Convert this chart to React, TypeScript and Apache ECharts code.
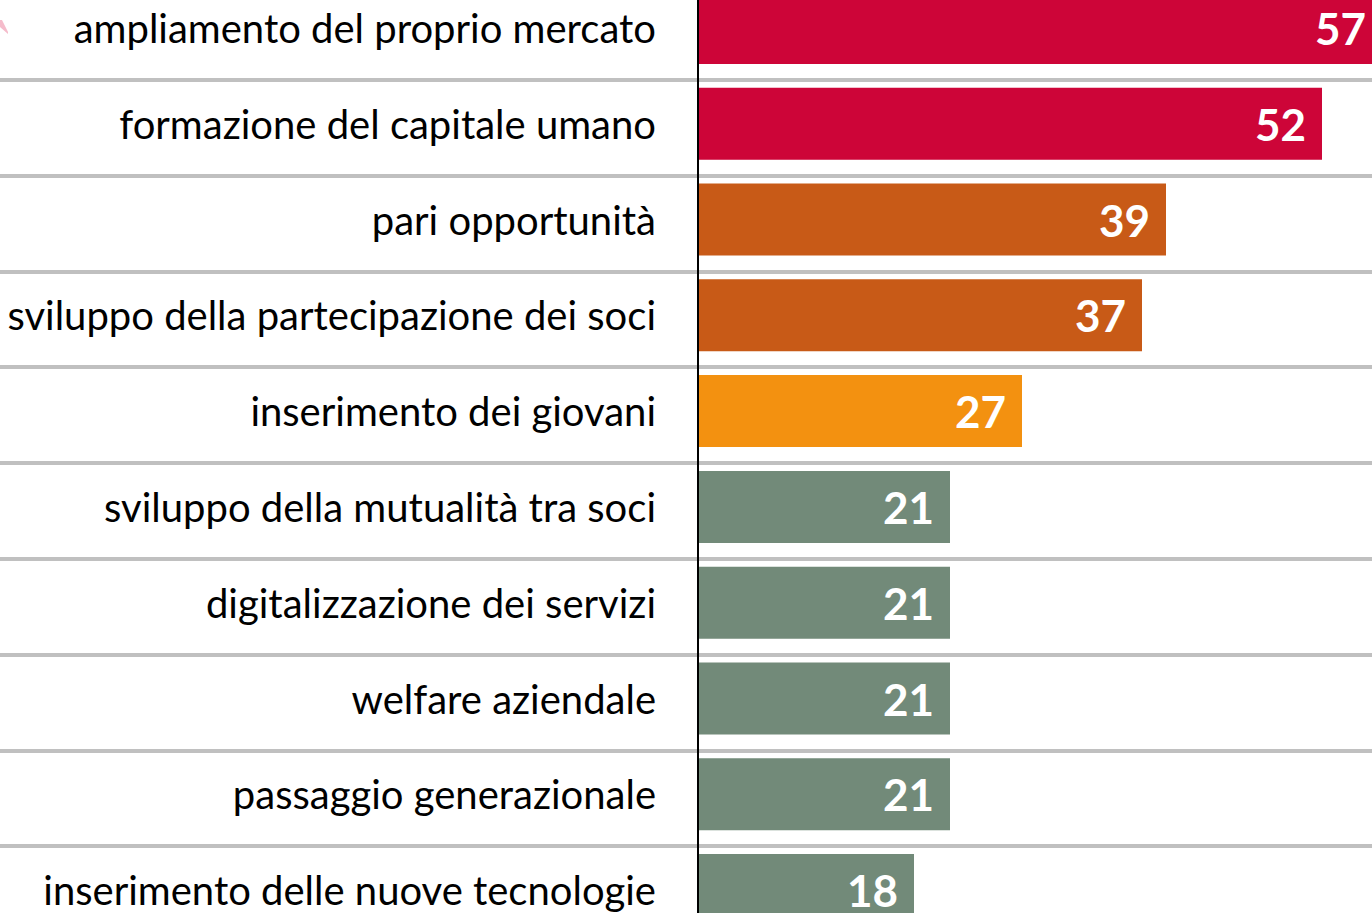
import React, { useEffect, useRef } from "react";
import * as echarts from "echarts";

const categories = [
  "ampliamento del proprio mercato",
  "formazione del capitale umano",
  "pari opportunità",
  "sviluppo della partecipazione dei soci",
  "inserimento dei giovani",
  "sviluppo della mutualità tra soci",
  "digitalizzazione dei servizi",
  "welfare aziendale",
  "passaggio generazionale",
  "inserimento delle nuove tecnologie",
];
const values = [57, 52, 39, 37, 27, 21, 21, 21, 21, 18];
const barColors = [
  "#CD0538",
  "#CD0538",
  "#C85A17",
  "#C85A17",
  "#F39110",
  "#728A79",
  "#728A79",
  "#728A79",
  "#728A79",
  "#728A79",
];

const PX_PER_UNIT = 12;
const ZERO_X = 698;
const CHART_W = 1400;
const ROW_H = 95.8;
const GRID_H = ROW_H * categories.length;
const SHIFT_Y = -20;

export default function App() {
  const ref = useRef<HTMLDivElement>(null);
  useEffect(() => {
    if (!ref.current) return;
    const chart = echarts.init(ref.current, undefined, { renderer: "svg" });
    const xMax = (CHART_W - ZERO_X) / PX_PER_UNIT;
    chart.setOption({
      animation: false,
      backgroundColor: "#ffffff",
      grid: [
        { left: ZERO_X, width: CHART_W - ZERO_X, top: 0, height: GRID_H, containLabel: false, outerBoundsMode: "none" },
        { left: 0, width: CHART_W, top: 4, height: GRID_H, containLabel: false, outerBoundsMode: "none" },
      ],
      xAxis: [
        { type: "value", gridIndex: 0, min: 0, max: xMax, show: false, splitLine: { show: false } },
        { type: "value", gridIndex: 1, min: 0, max: 1, show: false, splitLine: { show: false } },
      ],
      yAxis: [
        {
          type: "category",
          gridIndex: 0,
          inverse: true,
          data: categories,
          axisLine: { show: true, lineStyle: { color: "#000000", width: 2 } },
          axisTick: { show: false },
          splitLine: { show: false },
          axisLabel: {
            margin: 42,
            color: "#000000",
            fontFamily: "Lato",
            fontSize: 40,
          },
          z: 5,
        },
        {
          type: "category",
          gridIndex: 1,
          inverse: true,
          data: categories,
          axisLine: { show: false },
          axisTick: { show: false },
          axisLabel: { show: false },
          splitLine: { show: true, lineStyle: { color: "#C0C0C0", width: 4 } },
        },
      ],
      graphic: [
        {
          type: "polygon",
          shape: { points: [[0, 40], [2, 40], [8, 52], [8, 54], [0, 47]] },
          style: { fill: "#F5BCCB" },
        },
      ],
      series: [
        {
          type: "bar",
          xAxisIndex: 0,
          yAxisIndex: 0,
          barWidth: 72,
          data: values.map((v, i) => ({ value: v, itemStyle: { color: barColors[i] } })),
          label: {
            show: true,
            position: "insideRight",
            distance: 16,
            color: "#ffffff",
            fontFamily: "Lato",
            fontWeight: "bold",
            fontSize: 44,
          },
          z: 3,
        },
      ],
    });
    return () => chart.dispose();
  }, []);
  return (
    <div style={{ position: "fixed", left: 0, top: 0, width: 1372, height: 913, overflow: "hidden", background: "#fff" }}>
      <div
        ref={ref}
        style={{ position: "absolute", left: 0, top: SHIFT_Y, width: CHART_W, height: GRID_H + 12 }}
      />
    </div>
  );
}
